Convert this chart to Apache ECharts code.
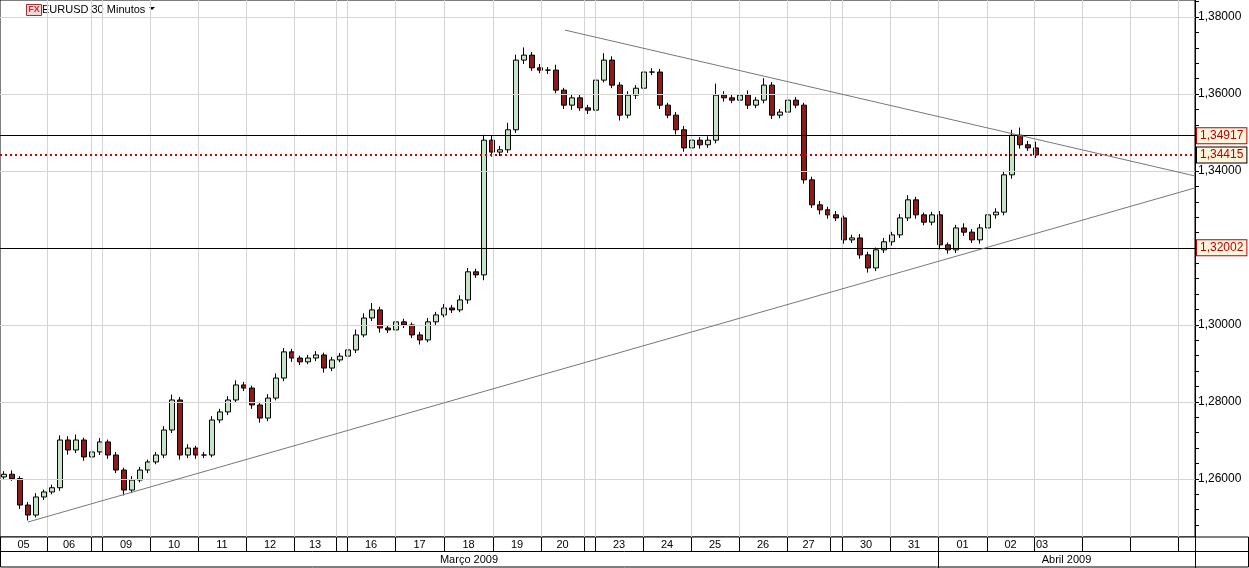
<!DOCTYPE html>
<html><head><meta charset="utf-8">
<script src="https://cdn.jsdelivr.net/npm/echarts@6/dist/echarts.min.js"></script>
<style>html,body{margin:0;padding:0;background:#fff}#c{width:1249px;height:568px}</style>
</head><body><div id="c"></div>
<script>
// Close prices of aggregated 4-hour candles (8 half-hour bars each)
const closes = [1.2612,1.2601,1.2532,1.2506,1.2553,1.2566,1.2577,1.2701,1.2675,1.2701,1.2657,1.2670,1.2696,1.2662,1.2623,1.2571,1.2597,1.2623,1.2644,1.2662,1.2727,1.2805,1.2662,1.2680,1.2662,1.2662,1.2753,1.2774,1.2805,1.2844,1.2836,1.2792,1.2758,1.2810,1.2862,1.2930,1.2914,1.2904,1.2914,1.2922,1.2888,1.2909,1.2919,1.2935,1.2974,1.3018,1.3039,1.2992,1.2987,1.3008,1.3000,1.2974,1.2961,1.3008,1.3026,1.3044,1.3039,1.3065,1.3138,1.3130,1.3480,1.3449,1.3455,1.3507,1.3688,1.3701,1.3668,1.3662,1.3662,1.3610,1.3571,1.3590,1.3564,1.3558,1.3636,1.3688,1.3623,1.3545,1.3597,1.3615,1.3657,1.3657,1.3571,1.3545,1.3507,1.3460,1.3480,1.3468,1.3480,1.3597,1.3590,1.3584,1.3597,1.3571,1.3584,1.3623,1.3545,1.3553,1.3584,1.3571,1.3377,1.3312,1.3299,1.3286,1.3278,1.3221,1.3226,1.3182,1.3148,1.3195,1.3216,1.3234,1.3278,1.3325,1.3286,1.3267,1.3286,1.3208,1.3195,1.3252,1.3241,1.3221,1.3252,1.3286,1.3293,1.3390,1.3493,1.3468,1.3460,1.34415];
const firstOpen = 1.2605;
// upper / lower wick lengths in pips
const wickUp = [8,10,6,8,10,6,8,12,10,14,6,8,10,6,8,6,10,8,6,8,10,14,8,10,6,8,10,8,10,12,8,6,8,10,12,10,8,6,8,10,6,8,8,10,14,12,18,8,6,10,8,6,8,10,8,10,8,12,10,8,14,12,10,18,14,20,8,10,8,14,6,8,10,8,12,18,10,8,10,8,12,10,8,6,8,10,6,8,10,30,10,8,10,12,8,18,8,8,10,8,6,8,10,8,10,6,8,10,8,6,10,8,10,12,8,6,8,10,6,8,12,8,10,8,10,10,14,20,10,16,6];
const wickDn = [8,6,10,14,6,8,6,8,12,8,10,6,8,10,8,14,8,6,8,6,8,8,12,8,10,8,6,8,8,6,8,10,12,8,6,8,10,8,6,8,12,8,6,8,8,6,8,12,8,10,8,8,12,6,8,6,8,6,10,8,14,12,10,8,8,10,8,8,10,8,10,12,8,10,8,6,8,14,8,10,8,8,10,8,12,10,8,10,8,8,10,8,8,10,8,8,10,8,10,8,10,8,12,10,8,10,8,10,12,8,8,10,8,8,10,8,8,12,10,8,10,8,10,8,10,8,10,10,8,8,8];
// day boundaries in half-hour bar units and their labels
const dayStarts = [0,47,91,102,150,198,246,294,336,347,395,444,493,541,584,595,643,691,739,787,830,842,890,938,987,1034,1082,1130,1178];
const dayLabels = ['05','06','','09','10','11','12','13','','16','17','18','19','20','','23','24','25','26','27','','30','31','01','02','03','','',''];
const axisEnd = 1195;
const months = [{label:'Março 2009', from:0, to:938},{label:'Abril 2009', from:938, to:1195}];
const priceTicks = [1.26,1.28,1.30,1.32,1.34,1.36,1.38];
const levels = [1.34917, 1.32002];
const lastPrice = 1.34415;
const lowerTrend = [[28,1.2488],[1195,1.3356]];
const upperTrend = [[565,1.3766],[1195,1.3387]];
const yMin = 1.2449, yMax = 1.38442;

const candles = closes.map((c,i)=>{
  const o = i===0 ? firstOpen : closes[i-1];
  const hi = Math.max(o,c) + wickUp[i%wickUp.length]/10000;
  const lo = Math.min(o,c) - wickDn[i%wickDn.length]/10000;
  return [4+8*i, o, c, lo, hi];
});
const minorTicks=[]; for(let v=1.248; v<1.3844; v+=0.004) minorTicks.push(+v.toFixed(3));
const fmt = v => v.toFixed(5).replace('.',',');

const chart = echarts.init(document.getElementById('c'));
const tagLabel = (val,border)=>({show:true,position:'end',formatter:fmt(val),color:'#c00000',fontSize:12,fontFamily:'Liberation Sans',backgroundColor:'#fff4dc',borderColor:border,borderWidth:1,padding:[2,3,1,3],distance:2});
chart.setOption({
  animation:false,
  grid:{left:0,right:54,top:0,bottom:31,show:true,borderColor:'#000',borderWidth:1},
  xAxis:{type:'value',min:0,max:axisEnd,show:false},
  yAxis:{type:'value',position:'right',min:yMin,max:yMax,
    axisLine:{show:true,onZero:false,lineStyle:{color:'#000'}},
    axisTick:{show:true,customValues:minorTicks,length:4,lineStyle:{color:'#000'}},
    axisLabel:{customValues:priceTicks,formatter:fmt,color:'#000',fontSize:12,fontFamily:'Liberation Sans',margin:3},
    splitLine:{show:false}},
  series:[
   {type:'line',data:[],silent:true,markLine:{symbol:'none',silent:true,animation:false,precision:5,label:{show:false},
     lineStyle:{color:'#d4d4d4',type:'solid',width:1},
     data:[...dayStarts.slice(1).map(d=>({xAxis:d})),...priceTicks.map(v=>({yAxis:v}))]}},
   {type:'candlestick',data:candles,encode:{x:0,y:[1,2,3,4]},barWidth:5,
    itemStyle:{color:'#c4e4c4',color0:'#8c1c1c',borderColor:'#000',borderColor0:'#000',borderWidth:1},
    markLine:{symbol:'none',silent:true,animation:false,precision:5,
     data:[
      {yAxis:levels[0],lineStyle:{color:'#000',type:'solid',width:1},label:tagLabel(levels[0],'#c00000')},
      {yAxis:levels[1],lineStyle:{color:'#000',type:'solid',width:1},label:tagLabel(levels[1],'#c00000')},
      {yAxis:lastPrice,lineStyle:{color:'#d00000',type:[2,3],width:2},label:tagLabel(lastPrice,'#000')},
      [{coord:lowerTrend[0],lineStyle:{color:'#777',type:'solid',width:1},label:{show:false}},{coord:lowerTrend[1]}],
      [{coord:upperTrend[0],lineStyle:{color:'#777',type:'solid',width:1},label:{show:false}},{coord:upperTrend[1]}]
     ]}}
  ]
});

const px = d => chart.convertToPixel({xAxisIndex:0}, d);
const g = [];
const yTop = 537, yMid = 551, yBot = 567;
g.push({type:'rect',shape:{x:0.5,y:yTop,width:1248,height:yBot-yTop},style:{fill:'#fff',stroke:'#000',lineWidth:1}});
g.push({type:'line',shape:{x1:0,y1:yMid+0.5,x2:1249,y2:yMid+0.5},style:{stroke:'#000'}});
g.push({type:'line',shape:{x1:Math.round(px(axisEnd))+0.5,y1:yTop,x2:Math.round(px(axisEnd))+0.5,y2:568},style:{stroke:'#000'}});
dayStarts.forEach((d,i)=>{
  const x0 = px(d), x1 = px(i+1<dayStarts.length?dayStarts[i+1]:axisEnd);
  if(i>0) g.push({type:'line',shape:{x1:Math.round(x0)+0.5,y1:yTop,x2:Math.round(x0)+0.5,y2:yMid},style:{stroke:'#000'}});
  if(dayLabels[i]){
    const left = dayLabels[i]==='03';
    g.push({type:'text',x:left?x0+2:(x0+x1)/2,y:yTop+8,style:{text:dayLabels[i],fill:'#000',font:'11px Liberation Sans',align:left?'left':'center',verticalAlign:'middle'}});
  }
});
months.forEach((m,i)=>{
  const x0=px(m.from), x1=px(m.to);
  if(i>0) g.push({type:'line',shape:{x1:Math.round(x0)+0.5,y1:yMid,x2:Math.round(x0)+0.5,y2:568},style:{stroke:'#000'}});
  g.push({type:'text',x:(x0+x1)/2,y:yMid+9,style:{text:m.label,fill:'#000',font:'11px Liberation Sans',align:'center',verticalAlign:'middle'}});
});
// header
g.push({type:'rect',shape:{x:26.5,y:4.5,width:15,height:11},style:{fill:'#f4d6d6',stroke:'#a03030'}});
g.push({type:'text',x:34,y:10,style:{text:'FX',fill:'#c03030',font:'bold 9px Liberation Sans',align:'center',verticalAlign:'middle'}});
g.push({type:'text',x:42,y:10,style:{text:'EURUSD 30 Minutos',fill:'#000',font:'11px Liberation Sans',verticalAlign:'middle'}});
g.push({type:'polygon',shape:{points:[[149,7],[155,7],[152,10]]},style:{fill:'#000'}});
chart.setOption({graphic:g});
</script></body></html>
